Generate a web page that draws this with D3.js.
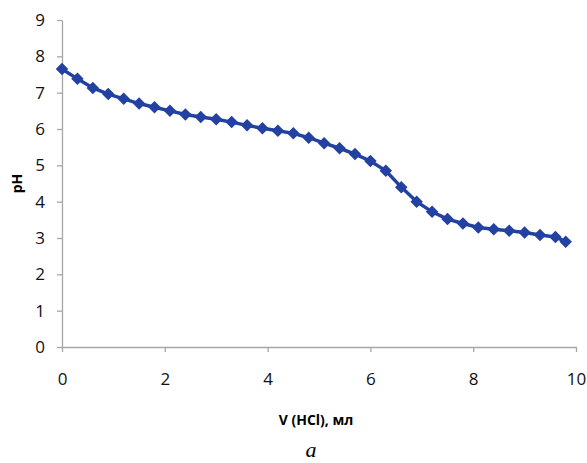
<!DOCTYPE html>
<html lang="ru">
<head>
    <meta charset="UTF-8">
    <title>pH</title>
    <style>
        body { margin: 0; background: #fff; }
        .axis path, .axis line { stroke: #a6a6a6; stroke-width: 1.3; }
        .axis text { font-family: "Open Sans", sans-serif; font-size: 17px; fill: #111; }
    </style>
</head>
<body>
<script src="https://d3js.org/d3.v7.min.js"></script>
<script>
    // titration data
    var volume = [0, 0.3, 0.6, 0.9, 1.2, 1.5, 1.8, 2.1, 2.4, 2.7, 3.0, 3.3, 3.6, 3.9, 4.2, 4.5, 4.8,
                  5.1, 5.4, 5.7, 6.0, 6.3, 6.6, 6.9, 7.2, 7.5, 7.8, 8.1, 8.4, 8.7, 9.0, 9.3, 9.6, 9.8];
    var ph = [7.65, 7.38, 7.13, 6.96, 6.83, 6.70, 6.60, 6.50, 6.40, 6.33, 6.27, 6.19, 6.10, 6.02, 5.95, 5.88, 5.76,
              5.61, 5.47, 5.31, 5.12, 4.85, 4.40, 4.00, 3.72, 3.52, 3.40, 3.29, 3.24, 3.20, 3.15, 3.08, 3.03, 2.90];
    var xTicks = [0, 2, 4, 6, 8, 10];
    var yTicks = [0, 1, 2, 3, 4, 5, 6, 7, 8, 9];

    var width = 587, height = 463,
        margin = {top: 20, right: 11, bottom: 116, left: 62},
        color = '#2241a0';

    var svg = d3.select('body').append('svg')
                .attr('width', width)
                .attr('height', height);

    var x = d3.scaleLinear().domain([0, 10]).range([margin.left, width - margin.right]);
    var y = d3.scaleLinear().domain([0, 9]).range([height - margin.bottom, margin.top]);

    var xAxis = d3.axisBottom(x).tickValues(xTicks).tickSizeInner(5).tickSizeOuter(0).tickPadding(21);
    var yAxis = d3.axisLeft(y).tickValues(yTicks).tickSizeInner(5).tickSizeOuter(0).tickPadding(12);

    svg.append('g')
       .attr('class', 'axis x-axis')
       .attr('transform', 'translate(0,' + y(0) + ')')
       .call(xAxis);

    svg.append('g')
       .attr('class', 'axis y-axis')
       .attr('transform', 'translate(' + margin.left + ',0)')
       .call(yAxis);

    var points = volume.map(function(v, i) { return [v, ph[i]]; });

    svg.append('path')
       .datum(points)
       .attr('fill', 'none')
       .attr('stroke', color)
       .attr('stroke-width', 3.5)
       .attr('d', d3.line().x(function(d) { return x(d[0]); }).y(function(d) { return y(d[1]); }));

    var diamond = d3.symbol().type(d3.symbolSquare).size(78);
    svg.append('g').selectAll('path')
       .data(points)
       .enter().append('path')
       .attr('d', diamond)
       .attr('fill', color)
       .attr('transform', function(d) { return 'translate(' + x(d[0]) + ',' + y(d[1]) + ') rotate(45)'; });

    svg.append('text')
       .attr('transform', 'translate(22,' + (y(4.5)) + ') rotate(-90)')
       .attr('text-anchor', 'middle')
       .style('font-family', '"Open Sans", sans-serif')
       .style('font-weight', 'bold')
       .style('font-size', '14px')
       .text('pH');

    svg.append('text')
       .attr('x', 316)
       .attr('y', 425)
       .attr('text-anchor', 'middle')
       .style('font-family', '"Open Sans", sans-serif')
       .style('font-weight', 'bold')
       .style('font-size', '14px')
       .text('V (HCl), мл');

    svg.append('text')
       .attr('x', 311)
       .attr('y', 457)
       .attr('text-anchor', 'middle')
       .style('font-family', '"Liberation Serif", serif')
       .style('font-style', 'italic')
       .style('font-size', '22px')
       .text('a');
</script>
</body>
</html>
